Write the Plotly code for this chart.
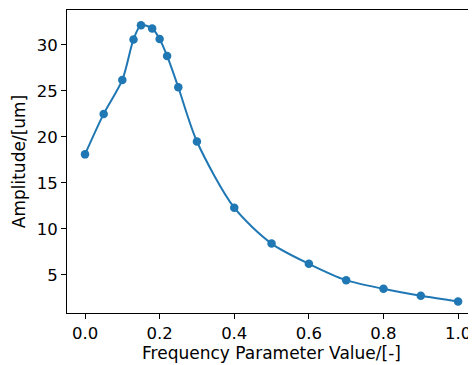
import plotly.graph_objects as go

freq = [0.0, 0.05, 0.1, 0.13, 0.15, 0.18, 0.2, 0.22, 0.25, 0.3, 0.4, 0.5, 0.6, 0.7, 0.8, 0.9, 1.0]
amplitude = [18.1, 22.5, 26.2, 30.6, 32.15, 31.8, 30.65, 28.8, 25.4, 19.5, 12.3, 8.4, 6.2, 4.42, 3.48, 2.72, 2.1]
x_ticks = [0.0, 0.2, 0.4, 0.6, 0.8, 1.0]
y_ticks = [5, 10, 15, 20, 25, 30]

TICK_FONT = dict(family="DejaVu Sans", size=16.5, color="black")
TITLE_FONT = dict(family="DejaVu Sans", size=17, color="black")

fig = go.Figure()
fig.add_trace(go.Scatter(
    x=freq, y=amplitude, mode="lines+markers",
    line=dict(color="#1f77b4", width=2, shape="spline", smoothing=0.8),
    marker=dict(color="#1f77b4", size=8.5),
    showlegend=False, cliponaxis=False,
))

axis_common = dict(
    showgrid=False, zeroline=False, showline=True, linecolor="black", linewidth=1,
    mirror=True, ticks="outside", ticklen=5, tickwidth=1, tickcolor="black",
    tickfont=TICK_FONT, automargin=False,
)
fig.update_xaxes(
    range=[-0.0483, 1.048], tickvals=x_ticks, ticktext=[f"{v:.1f}" for v in x_ticks],
    title=dict(text="Frequency Parameter Value/[-]", font=TITLE_FONT, standoff=4),
    **axis_common,
)
fig.update_yaxes(
    range=[0.85, 33.8], tickvals=y_ticks,
    title=dict(text="Amplitude/[um]", font=TITLE_FONT, standoff=6),
    **axis_common,
)
# page body has an 8px default margin, so the figure is sized to fit the window
fig.update_layout(
    width=468, height=357,
    margin=dict(l=59, r=0, t=2, b=52),
    paper_bgcolor="white", plot_bgcolor="white",
)
fig.write_html("out.html")
